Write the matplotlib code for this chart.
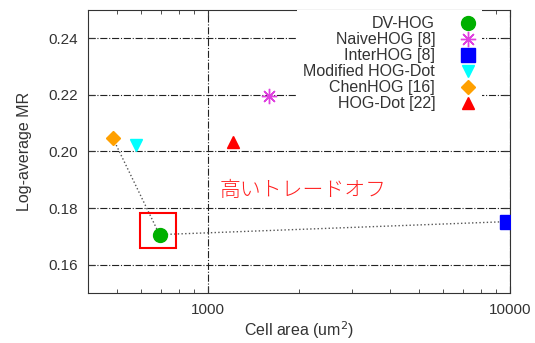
import matplotlib
matplotlib.use("Agg")
import matplotlib.pyplot as plt
import matplotlib.patches as patches

plt.rcParams['font.family'] = ['Liberation Sans', 'Noto Sans CJK JP', 'DejaVu Sans']

labels = ['DV-HOG', 'NaiveHOG [8]', 'InterHOG [8]', 'Modified HOG-Dot', 'ChenHOG [16]', 'HOG-Dot [22]']
cell_area = [690, 1590, 9800, 578, 484, 1210]
log_mr = [0.1706, 0.2195, 0.1752, 0.2021, 0.2046, 0.2032]
markers = ['o', (8, 2, 0), 's', 'v', 'D', '^']
colors = ['#00b000', '#e040e0', '#0000ff', '#00ffff', '#ffa000', '#ff0000']
sizes = [10, 11, 10, 9, 7, 9]

# trade-off links: ChenHOG -> DV-HOG -> InterHOG
link_x = [484, 690, 9800]
link_y = [0.2046, 0.1706, 0.1752]

fig = plt.figure(figsize=(5.35, 3.43), dpi=100)
ax = fig.add_axes([0.1645, 0.146, 0.789, 0.825])

ax.plot(link_x, link_y, linestyle=':', color='#555555', linewidth=1, zorder=2)

for lab, x, y, m, c, s in zip(labels, cell_area, log_mr, markers, colors, sizes):
    ax.plot([x], [y], linestyle='none', marker=m, color=c, markersize=s,
            markeredgecolor=c, markeredgewidth=1.0, label=lab, zorder=3)

ax.set_xscale('log')
ax.set_xlim(400, 10000)
ax.set_ylim(0.15, 0.25)
ax.set_xticks([1000, 10000])
ax.set_xticklabels(['1000', '10000'])
ax.set_yticks([0.16, 0.18, 0.20, 0.22, 0.24])
ax.set_yticklabels(['0.16', '0.18', '0.20', '0.22', '0.24'])
ax.tick_params(which='both', direction='in', top=True, right=True, colors='#333333',
               labelsize=11, labelcolor='#333333')
ax.tick_params(which='major', length=5, pad=7)
ax.tick_params(which='minor', length=3)
ax.grid(True, which='major', linestyle='-.', color='#222222', linewidth=0.8)
for sp in ax.spines.values():
    sp.set_color('#333333')

ax.set_xlabel('Cell area (um$^2$)', fontsize=11.5, color='#333333', labelpad=2)
ax.set_ylabel('Log-average MR', fontsize=11.5, color='#333333', labelpad=12)

rect = patches.Rectangle((596, 0.1657), 783 - 596, 0.1784 - 0.1657, fill=False,
                         edgecolor='#ff0000', linewidth=1.5, zorder=4)
ax.add_patch(rect)

ax.text(2060, 0.1862, '高いトレードオフ', color='#ff2020', fontsize=15,
        family=['Noto Sans CJK JP', 'DejaVu Sans'], fontweight='light',
        ha='center', va='center')

leg = ax.legend(loc='upper right', bbox_to_anchor=(0.934, 1.0), markerfirst=False,
                fontsize=11.5, labelspacing=0.06, handletextpad=1.55,
                borderaxespad=0, handlelength=1.0, borderpad=0.4,
                frameon=True, fancybox=False, framealpha=1,
                facecolor='white', edgecolor='none')
for t in leg.get_texts():
    t.set_color('#333333')

fig.savefig('out.png', dpi=100)
